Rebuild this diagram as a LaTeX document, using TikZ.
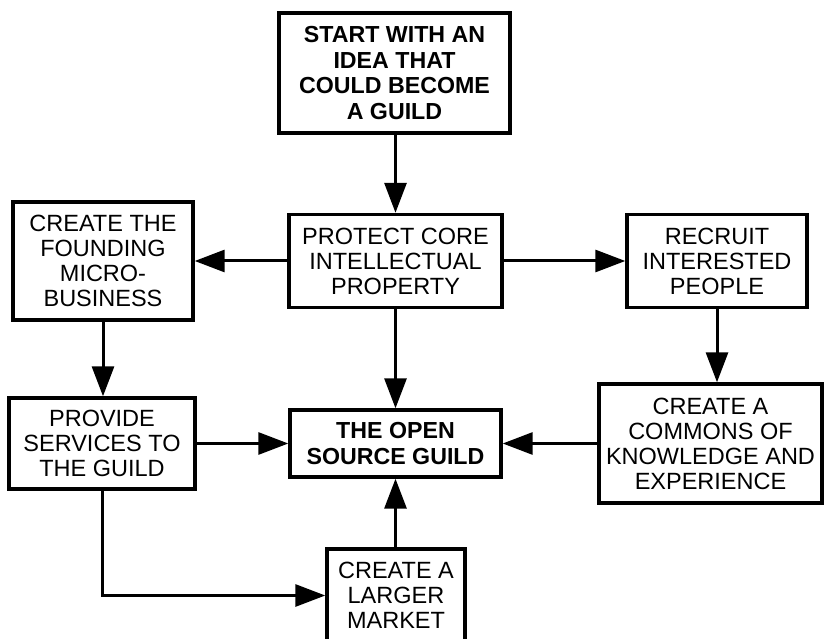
\documentclass[tikz,border=0pt]{standalone}
\usepackage{fontspec}
\setmainfont{Liberation Sans}
\usetikzlibrary{arrows.meta}
\begin{document}
\begin{tikzpicture}[x=1pt,y=-1pt,
  box/.style={draw,line width=3.4pt,align=center,inner sep=0pt,
    font=\fontsize{23.5}{25}\selectfont},
  boldbox/.style={box,font=\fontsize{23.2}{25.5}\selectfont\bfseries},
  conn/.style={line width=3pt,-{Triangle[length=30pt,width=22pt]}}]
\useasboundingbox (0,0) rectangle (828,639);
\clip (0,0) rectangle (828,639);
\node[boldbox,minimum width=231pt,minimum height=120pt] (start) at (394.5,73)
  {START WITH AN\\IDEA THAT\\COULD BECOME\\A GUILD};
\node[box,minimum width=213pt,minimum height=93pt] (protect) at (395.5,261)
  {PROTECT CORE\\INTELLECTUAL\\PROPERTY};
\node[box,minimum width=180pt,minimum height=118pt] (found) at (103,261)
  {CREATE THE\\FOUNDING\\MICRO-\\BUSINESS};
\node[box,minimum width=180pt,minimum height=93pt] (recruit) at (717,261)
  {RECRUIT\\INTERESTED\\PEOPLE};
\node[box,minimum width=186pt,minimum height=91pt] (provide) at (102,443.5)
  {PROVIDE\\SERVICES TO\\THE GUILD};
\node[boldbox,minimum width=211pt,minimum height=67pt] (guild) at (395.5,443.5)
  {THE OPEN\\SOURCE GUILD};
\node[box,minimum width=223pt,minimum height=119pt] (commons) at (710.5,443.5)
  {CREATE A\\COMMONS OF\\KNOWLEDGE AND\\EXPERIENCE};
\node[box,minimum width=138pt,minimum height=93pt] (market) at (396,595.5)
  {CREATE A\\LARGER\\MARKET};
\coordinate (corner) at (provide.south |- market.west);
\draw[conn] (start.south -| protect.north) -- (protect.north);
\draw[conn] (protect.west) -- (found.east);
\draw[conn] (protect.east) -- (recruit.west);
\draw[conn] (protect.south) -- (guild.north);
\draw[conn] (found.south) -- (found.south |- provide.north);
\draw[conn] (recruit.south) -- (recruit.south |- commons.north);
\draw[conn] (provide.east) -- (guild.west);
\draw[conn] (commons.west) -- (guild.east);
\draw[conn] (market.north -| guild.south) -- (guild.south);
\draw[conn] (provide.south) -- (corner) -- (market.west);
\end{tikzpicture}
\end{document}
